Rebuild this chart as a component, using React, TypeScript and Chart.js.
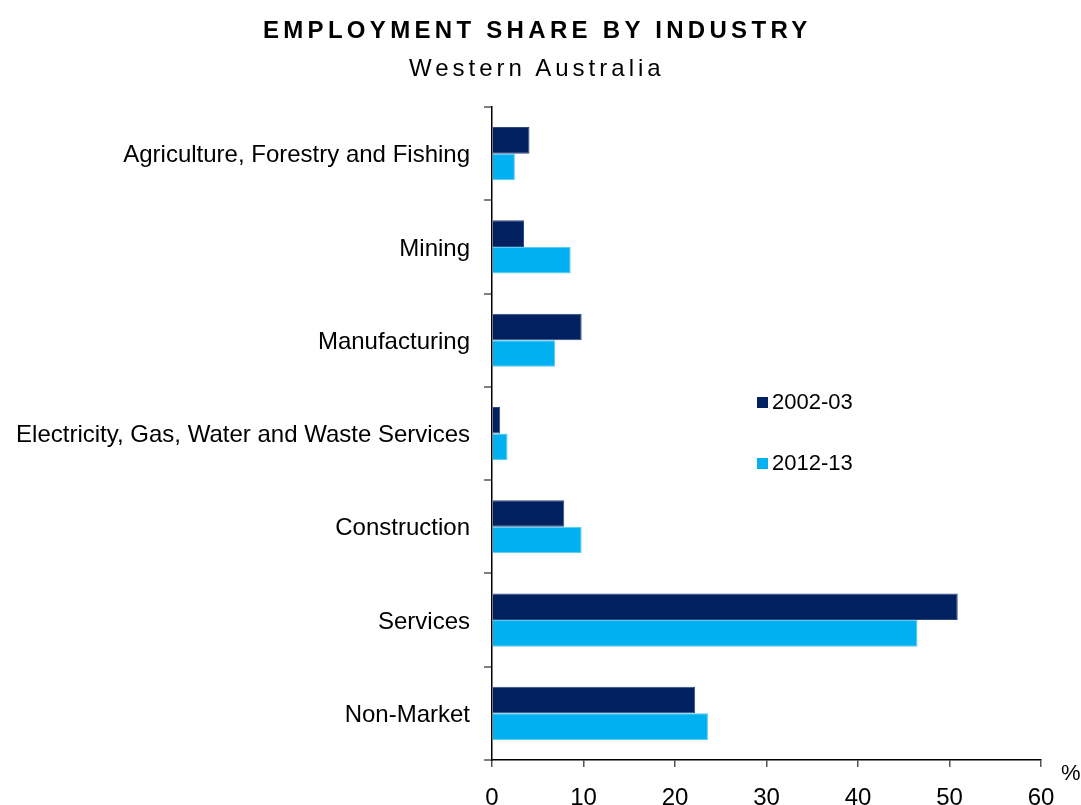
import React, { useEffect, useRef } from "react";
import { Chart, registerables } from "chart.js";

Chart.register(...registerables);

const categories = [
  "Agriculture, Forestry and Fishing",
  "Mining",
  "Manufacturing",
  "Electricity, Gas, Water and Waste Services",
  "Construction",
  "Services",
  "Non-Market",
];
const seriesLabels = ["2002-03", "2012-13"];
const share2002 = [4.1, 3.5, 9.8, 0.9, 7.9, 50.9, 22.2];
const share2012 = [2.5, 8.6, 6.9, 1.7, 9.8, 46.5, 23.6];
const xMin = 0;
const xMax = 60;
const xStep = 10;

const DARK = "#002060";
const LIGHT = "#00B0F0";
const FONT = "'Liberation Sans', Arial, sans-serif";

export default function App() {
  const ref = useRef<HTMLCanvasElement | null>(null);

  useEffect(() => {
    document.body.style.margin = "0";
    const canvas = ref.current;
    if (!canvas) return;
    const chart = new Chart(canvas, {
      type: "bar",
      data: {
        labels: categories,
        datasets: [
          {
            label: seriesLabels[0],
            data: share2002,
            backgroundColor: DARK,
            borderColor: "#2b4a82",
            borderWidth: 1,
            categoryPercentage: 0.57,
            barPercentage: 1.0,
          },
          {
            label: seriesLabels[1],
            data: share2012,
            backgroundColor: LIGHT,
            borderColor: "#5ccbf2",
            borderWidth: 1,
            categoryPercentage: 0.57,
            barPercentage: 1.0,
          },
        ],
      },
      options: {
        indexAxis: "y",
        responsive: false,
        animation: false,
        layout: { padding: { top: 107, right: 40, left: 0, bottom: 0 } },
        plugins: {
          legend: { display: false },
          title: { display: false },
          tooltip: { enabled: false },
        },
        scales: {
          x: {
            type: "linear",
            min: xMin,
            max: xMax,
            ticks: {
              stepSize: xStep,
              color: "#000",
              font: { family: FONT, size: 24 },
              padding: 17,
            },
            grid: {
              drawOnChartArea: false,
              drawTicks: true,
              tickLength: 7,
              color: "#555",
              lineWidth: 1.5,
            },
            border: { display: true, color: "#000", width: 1.5 },
            afterFit: (scale: any) => {
              scale.height = 45;
            },
          },
          y: {
            type: "category",
            ticks: {
              color: "#000",
              font: { family: FONT, size: 24 },
              padding: 14,
              labelOffset: 2,
              autoSkip: false,
            },
            grid: {
              offset: true,
              drawOnChartArea: false,
              drawTicks: true,
              tickLength: 8,
              color: "#808080",
              lineWidth: 2,
            },
            border: { display: true, color: "#000", width: 1.5 },
            afterFit: (scale: any) => {
              scale.width = 492;
            },
          },
        },
      },
    });
    return () => chart.destroy();
  }, []);

  const legendItem = (color: string, text: string, top: number) => (
    <div
      style={{
        position: "absolute",
        left: 757,
        top: top - 14,
        height: 28,
        display: "flex",
        alignItems: "center",
        fontFamily: FONT,
        fontSize: 22,
        color: "#000",
        whiteSpace: "nowrap",
      }}
    >
      <span style={{ display: "inline-block", width: 11, height: 11, background: color, marginRight: 4 }} />
      <span>{text}</span>
    </div>
  );

  return (
    <div
      style={{
        position: "fixed",
        left: 0,
        top: 0,
        width: 1081,
        height: 805,
        background: "#fff",
        overflow: "hidden",
      }}
    >
      <canvas ref={ref} width={1081} height={805} style={{ position: "absolute", left: 0, top: 0 }} />
      <div
        style={{
          position: "absolute",
          left: 263,
          top: 15,
          fontFamily: FONT,
          fontWeight: "bold",
          fontSize: 24,
          letterSpacing: 4.3,
          lineHeight: "30px",
          color: "#000",
          whiteSpace: "nowrap",
        }}
      >
        EMPLOYMENT SHARE BY INDUSTRY
      </div>
      <div
        style={{
          position: "absolute",
          left: 409,
          top: 53,
          fontFamily: FONT,
          fontSize: 24,
          letterSpacing: 4,
          lineHeight: "30px",
          color: "#000",
          whiteSpace: "nowrap",
        }}
      >
        Western Australia
      </div>
      {legendItem(DARK, seriesLabels[0], 402)}
      {legendItem(LIGHT, seriesLabels[1], 463)}
      <div
        style={{
          position: "absolute",
          left: 1061,
          top: 760,
          fontFamily: FONT,
          fontSize: 22,
          lineHeight: "26px",
          color: "#000",
        }}
      >
        %
      </div>
    </div>
  );
}
